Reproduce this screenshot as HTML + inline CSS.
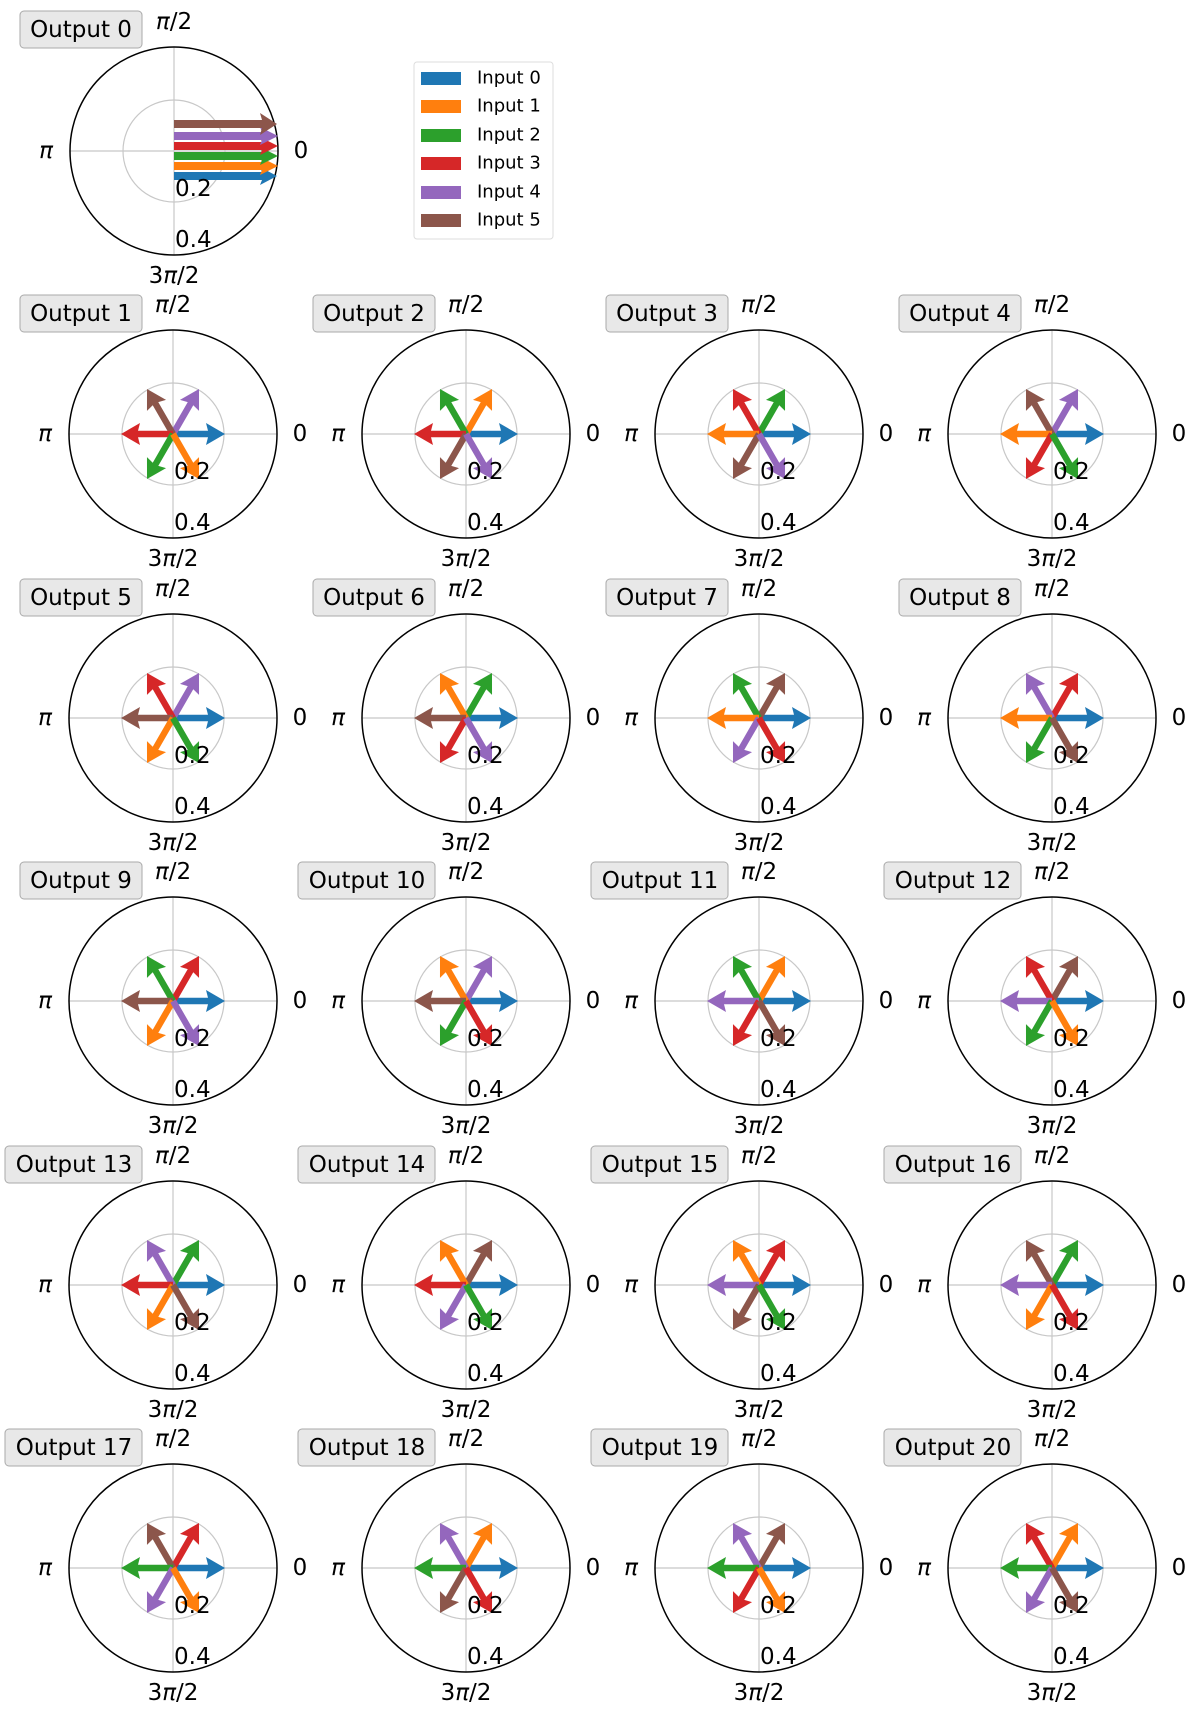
<!DOCTYPE html>
<html><head><meta charset="utf-8"><style>
html,body{margin:0;padding:0;background:#fff;}
svg{display:block;font-family:"DejaVu Sans","Liberation Sans",sans-serif;}
</style></head><body>
<svg width="1200" height="1719" viewBox="0 0 1200 1719" xmlns="http://www.w3.org/2000/svg">
<defs>
<g id="p">
<line x1="-104" y1="0" x2="104" y2="0" stroke="#c8c8c8" stroke-width="1.2"/>
<line x1="0" y1="-104" x2="0" y2="104" stroke="#c8c8c8" stroke-width="1.2"/>
<circle r="51" fill="none" stroke="#c8c8c8" stroke-width="1.2"/>
<circle r="104" fill="none" stroke="#000" stroke-width="1.5"/>
</g>
<path id="a" d="M0,-3.2 L35,-3.2 L33,-11 L52,0 L33,11 L35,3.2 L0,3.2 Z"/>
<g id="t" font-size="23" fill="#000" text-anchor="middle" dominant-baseline="central">
<text x="0" y="-129" font-style="italic">π<tspan font-style="normal">/2</tspan></text>
<text x="127" y="0">0</text>
<text x="-128" y="0" font-style="italic">π</text>
<text x="0" y="125">3<tspan font-style="italic">π</tspan>/2</text>
<text x="1" y="38" text-anchor="start">0.2</text>
<text x="1" y="89" text-anchor="start">0.4</text>
</g>
</defs>
<style>
.b{fill:#1f77b4}.o{fill:#ff7f0e}.g{fill:#2ca02c}.r{fill:#d62728}.u{fill:#9467bd}.n{fill:#8c564b}
.bx{fill:#e8e8e8;stroke:#aaa;stroke-width:1}
.lb{font-size:23px;text-anchor:middle;dominant-baseline:central}
</style>

<!-- Output 0 -->
<g transform="translate(174,151)">
<use href="#p"/>
<g>
<path class="b" d="M0,21 L88,21 L86,16 L103,25 L86,34 L88,29 L0,29Z"/>
<path class="o" d="M0,11 L88,11 L86,6 L104,15 L86,24 L88,19 L0,19Z"/>
<path class="g" d="M0,1 L88,1 L86,-4 L104,5 L86,14 L88,9 L0,9Z"/>
<path class="r" d="M0,-9 L88,-9 L86,-14 L104,-5 L86,4 L88,-1 L0,-1Z"/>
<path class="u" d="M0,-19 L88,-19 L86,-24 L104,-15 L86,-6 L88,-11 L0,-11Z"/>
<path class="n" d="M0,-31 L88,-31 L86,-38 L103,-27 L86,-16 L88,-23 L0,-23Z"/>
</g>
<use href="#t"/>
<rect class="bx" x="-154" y="-140" width="122" height="37" rx="4"/>
<text class="lb" x="-93" y="-121">Output 0</text>
</g>

<!-- Legend -->
<rect x="414" y="62" width="139" height="177" rx="3" fill="#fff" stroke="#ddd"/>
<g font-size="18" dominant-baseline="central">
<rect class="b" x="421" y="72" width="40" height="13"/><text x="477" y="78">Input 0</text>
<rect class="o" x="421" y="100" width="40" height="13"/><text x="477" y="106">Input 1</text>
<rect class="g" x="421" y="129" width="40" height="13"/><text x="477" y="135">Input 2</text>
<rect class="r" x="421" y="157" width="40" height="13"/><text x="477" y="163">Input 3</text>
<rect class="u" x="421" y="186" width="40" height="13"/><text x="477" y="192">Input 4</text>
<rect class="n" x="421" y="214" width="40" height="13"/><text x="477" y="220">Input 5</text>
</g>

<!-- Row 1 (y=434) -->
<g transform="translate(173,434)"><use href="#p"/>
<use href="#a" class="b"/><use href="#a" class="u" transform="rotate(-60)"/><use href="#a" class="n" transform="rotate(-120)"/><use href="#a" class="r" transform="rotate(180)"/><use href="#a" class="g" transform="rotate(-240)"/><use href="#a" class="o" transform="rotate(-300)"/>
<use href="#t"/><rect class="bx" x="-153" y="-139" width="122" height="37" rx="4"/><text class="lb" x="-92" y="-120">Output 1</text></g>
<g transform="translate(466,434)"><use href="#p"/>
<use href="#a" class="b"/><use href="#a" class="o" transform="rotate(-60)"/><use href="#a" class="g" transform="rotate(-120)"/><use href="#a" class="r" transform="rotate(180)"/><use href="#a" class="n" transform="rotate(-240)"/><use href="#a" class="u" transform="rotate(-300)"/>
<use href="#t"/><rect class="bx" x="-153" y="-139" width="122" height="37" rx="4"/><text class="lb" x="-92" y="-120">Output 2</text></g>
<g transform="translate(759,434)"><use href="#p"/>
<use href="#a" class="b"/><use href="#a" class="g" transform="rotate(-60)"/><use href="#a" class="r" transform="rotate(-120)"/><use href="#a" class="o" transform="rotate(180)"/><use href="#a" class="n" transform="rotate(-240)"/><use href="#a" class="u" transform="rotate(-300)"/>
<use href="#t"/><rect class="bx" x="-153" y="-139" width="122" height="37" rx="4"/><text class="lb" x="-92" y="-120">Output 3</text></g>
<g transform="translate(1052,434)"><use href="#p"/>
<use href="#a" class="b"/><use href="#a" class="u" transform="rotate(-60)"/><use href="#a" class="n" transform="rotate(-120)"/><use href="#a" class="o" transform="rotate(180)"/><use href="#a" class="r" transform="rotate(-240)"/><use href="#a" class="g" transform="rotate(-300)"/>
<use href="#t"/><rect class="bx" x="-153" y="-139" width="122" height="37" rx="4"/><text class="lb" x="-92" y="-120">Output 4</text></g>

<!-- Row 2 (y=718) -->
<g transform="translate(173,718)"><use href="#p"/>
<use href="#a" class="b"/><use href="#a" class="u" transform="rotate(-60)"/><use href="#a" class="r" transform="rotate(-120)"/><use href="#a" class="n" transform="rotate(180)"/><use href="#a" class="o" transform="rotate(-240)"/><use href="#a" class="g" transform="rotate(-300)"/>
<use href="#t"/><rect class="bx" x="-153" y="-139" width="122" height="37" rx="4"/><text class="lb" x="-92" y="-120">Output 5</text></g>
<g transform="translate(466,718)"><use href="#p"/>
<use href="#a" class="b"/><use href="#a" class="g" transform="rotate(-60)"/><use href="#a" class="o" transform="rotate(-120)"/><use href="#a" class="n" transform="rotate(180)"/><use href="#a" class="r" transform="rotate(-240)"/><use href="#a" class="u" transform="rotate(-300)"/>
<use href="#t"/><rect class="bx" x="-153" y="-139" width="122" height="37" rx="4"/><text class="lb" x="-92" y="-120">Output 6</text></g>
<g transform="translate(759,718)"><use href="#p"/>
<use href="#a" class="b"/><use href="#a" class="n" transform="rotate(-60)"/><use href="#a" class="g" transform="rotate(-120)"/><use href="#a" class="o" transform="rotate(180)"/><use href="#a" class="u" transform="rotate(-240)"/><use href="#a" class="r" transform="rotate(-300)"/>
<use href="#t"/><rect class="bx" x="-153" y="-139" width="122" height="37" rx="4"/><text class="lb" x="-92" y="-120">Output 7</text></g>
<g transform="translate(1052,718)"><use href="#p"/>
<use href="#a" class="b"/><use href="#a" class="r" transform="rotate(-60)"/><use href="#a" class="u" transform="rotate(-120)"/><use href="#a" class="o" transform="rotate(180)"/><use href="#a" class="g" transform="rotate(-240)"/><use href="#a" class="n" transform="rotate(-300)"/>
<use href="#t"/><rect class="bx" x="-153" y="-139" width="122" height="37" rx="4"/><text class="lb" x="-92" y="-120">Output 8</text></g>

<!-- Row 3 (y=1001) -->
<g transform="translate(173,1001)"><use href="#p"/>
<use href="#a" class="b"/><use href="#a" class="r" transform="rotate(-60)"/><use href="#a" class="g" transform="rotate(-120)"/><use href="#a" class="n" transform="rotate(180)"/><use href="#a" class="o" transform="rotate(-240)"/><use href="#a" class="u" transform="rotate(-300)"/>
<use href="#t"/><rect class="bx" x="-153" y="-139" width="122" height="37" rx="4"/><text class="lb" x="-92" y="-120">Output 9</text></g>
<g transform="translate(466,1001)"><use href="#p"/>
<use href="#a" class="b"/><use href="#a" class="u" transform="rotate(-60)"/><use href="#a" class="o" transform="rotate(-120)"/><use href="#a" class="n" transform="rotate(180)"/><use href="#a" class="g" transform="rotate(-240)"/><use href="#a" class="r" transform="rotate(-300)"/>
<use href="#t"/><rect class="bx" x="-168" y="-139" width="137" height="37" rx="4"/><text class="lb" x="-99" y="-120">Output 10</text></g>
<g transform="translate(759,1001)"><use href="#p"/>
<use href="#a" class="b"/><use href="#a" class="o" transform="rotate(-60)"/><use href="#a" class="g" transform="rotate(-120)"/><use href="#a" class="u" transform="rotate(180)"/><use href="#a" class="r" transform="rotate(-240)"/><use href="#a" class="n" transform="rotate(-300)"/>
<use href="#t"/><rect class="bx" x="-168" y="-139" width="137" height="37" rx="4"/><text class="lb" x="-99" y="-120">Output 11</text></g>
<g transform="translate(1052,1001)"><use href="#p"/>
<use href="#a" class="b"/><use href="#a" class="n" transform="rotate(-60)"/><use href="#a" class="r" transform="rotate(-120)"/><use href="#a" class="u" transform="rotate(180)"/><use href="#a" class="g" transform="rotate(-240)"/><use href="#a" class="o" transform="rotate(-300)"/>
<use href="#t"/><rect class="bx" x="-168" y="-139" width="137" height="37" rx="4"/><text class="lb" x="-99" y="-120">Output 12</text></g>

<!-- Row 4 (y=1285) -->
<g transform="translate(173,1285)"><use href="#p"/>
<use href="#a" class="b"/><use href="#a" class="g" transform="rotate(-60)"/><use href="#a" class="u" transform="rotate(-120)"/><use href="#a" class="r" transform="rotate(180)"/><use href="#a" class="o" transform="rotate(-240)"/><use href="#a" class="n" transform="rotate(-300)"/>
<use href="#t"/><rect class="bx" x="-168" y="-139" width="137" height="37" rx="4"/><text class="lb" x="-99" y="-120">Output 13</text></g>
<g transform="translate(466,1285)"><use href="#p"/>
<use href="#a" class="b"/><use href="#a" class="n" transform="rotate(-60)"/><use href="#a" class="o" transform="rotate(-120)"/><use href="#a" class="r" transform="rotate(180)"/><use href="#a" class="u" transform="rotate(-240)"/><use href="#a" class="g" transform="rotate(-300)"/>
<use href="#t"/><rect class="bx" x="-168" y="-139" width="137" height="37" rx="4"/><text class="lb" x="-99" y="-120">Output 14</text></g>
<g transform="translate(759,1285)"><use href="#p"/>
<use href="#a" class="b"/><use href="#a" class="r" transform="rotate(-60)"/><use href="#a" class="o" transform="rotate(-120)"/><use href="#a" class="u" transform="rotate(180)"/><use href="#a" class="n" transform="rotate(-240)"/><use href="#a" class="g" transform="rotate(-300)"/>
<use href="#t"/><rect class="bx" x="-168" y="-139" width="137" height="37" rx="4"/><text class="lb" x="-99" y="-120">Output 15</text></g>
<g transform="translate(1052,1285)"><use href="#p"/>
<use href="#a" class="b"/><use href="#a" class="g" transform="rotate(-60)"/><use href="#a" class="n" transform="rotate(-120)"/><use href="#a" class="u" transform="rotate(180)"/><use href="#a" class="o" transform="rotate(-240)"/><use href="#a" class="r" transform="rotate(-300)"/>
<use href="#t"/><rect class="bx" x="-168" y="-139" width="137" height="37" rx="4"/><text class="lb" x="-99" y="-120">Output 16</text></g>

<!-- Row 5 (y=1568) -->
<g transform="translate(173,1568)"><use href="#p"/>
<use href="#a" class="b"/><use href="#a" class="r" transform="rotate(-60)"/><use href="#a" class="n" transform="rotate(-120)"/><use href="#a" class="g" transform="rotate(180)"/><use href="#a" class="u" transform="rotate(-240)"/><use href="#a" class="o" transform="rotate(-300)"/>
<use href="#t"/><rect class="bx" x="-168" y="-139" width="137" height="37" rx="4"/><text class="lb" x="-99" y="-120">Output 17</text></g>
<g transform="translate(466,1568)"><use href="#p"/>
<use href="#a" class="b"/><use href="#a" class="o" transform="rotate(-60)"/><use href="#a" class="u" transform="rotate(-120)"/><use href="#a" class="g" transform="rotate(180)"/><use href="#a" class="n" transform="rotate(-240)"/><use href="#a" class="r" transform="rotate(-300)"/>
<use href="#t"/><rect class="bx" x="-168" y="-139" width="137" height="37" rx="4"/><text class="lb" x="-99" y="-120">Output 18</text></g>
<g transform="translate(759,1568)"><use href="#p"/>
<use href="#a" class="b"/><use href="#a" class="n" transform="rotate(-60)"/><use href="#a" class="u" transform="rotate(-120)"/><use href="#a" class="g" transform="rotate(180)"/><use href="#a" class="r" transform="rotate(-240)"/><use href="#a" class="o" transform="rotate(-300)"/>
<use href="#t"/><rect class="bx" x="-168" y="-139" width="137" height="37" rx="4"/><text class="lb" x="-99" y="-120">Output 19</text></g>
<g transform="translate(1052,1568)"><use href="#p"/>
<use href="#a" class="b"/><use href="#a" class="o" transform="rotate(-60)"/><use href="#a" class="r" transform="rotate(-120)"/><use href="#a" class="g" transform="rotate(180)"/><use href="#a" class="u" transform="rotate(-240)"/><use href="#a" class="n" transform="rotate(-300)"/>
<use href="#t"/><rect class="bx" x="-168" y="-139" width="137" height="37" rx="4"/><text class="lb" x="-99" y="-120">Output 20</text></g>
</svg>
</body></html>
